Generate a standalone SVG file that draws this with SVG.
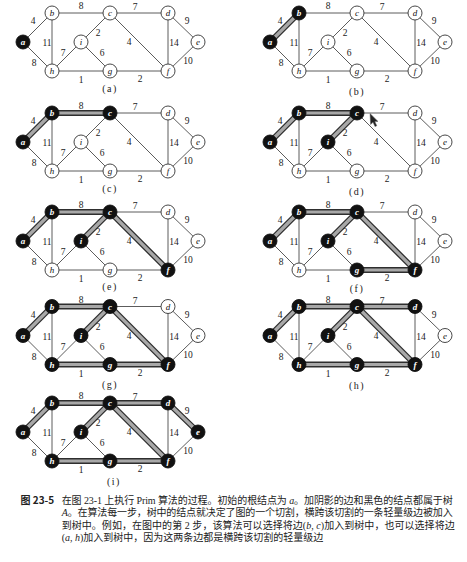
<svg xmlns="http://www.w3.org/2000/svg" width="467" height="562" viewBox="0 0 467 562">
<style>
.bg{fill:#fff}
.edges line{stroke:#4a4a4a;stroke-width:0.9}
.to{stroke:#2e2e2e;stroke-width:5.8;fill:none}
.ti{stroke:#a8a8a8;stroke-width:3.2;fill:none}
.n circle{fill:#fff;stroke:#333;stroke-width:0.9}
.n text{font-family:"Liberation Serif",serif;font-style:italic;font-size:9px;text-anchor:middle;fill:#111}
.k circle{fill:#111;stroke:#111}
.k text{fill:#fff;font-weight:bold}
.w text{font-family:"Liberation Serif",serif;font-size:9.5px;text-anchor:middle;fill:#222}
.lb{font-family:"Liberation Serif",serif;font-size:10px;text-anchor:middle;fill:#222;letter-spacing:1.5px}
.cap{font-family:"Liberation Serif","Noto Sans CJK SC",sans-serif;font-size:10px;fill:#222}
.capb{font-family:"Noto Sans CJK SC",sans-serif;font-size:10px;font-weight:bold;fill:#222}
.it{font-style:italic}
</style>
<rect class="bg" x="0" y="0" width="467" height="562"/>

<!-- panel a -->
<g id="panel-a" transform="translate(0,0)">
<g id="pa-edges" class="edges">
<line x1="23" y1="42" x2="52" y2="13"/><line x1="52" y1="13" x2="110" y2="13"/><line x1="110" y1="13" x2="168" y2="13"/><line x1="168" y1="13" x2="198" y2="42"/><line x1="52" y1="13" x2="52" y2="71"/><line x1="23" y1="42" x2="52" y2="71"/><line x1="52" y1="71" x2="81" y2="42"/><line x1="110" y1="13" x2="81" y2="42"/><line x1="81" y1="42" x2="110" y2="71"/><line x1="52" y1="71" x2="110" y2="71"/><line x1="110" y1="71" x2="168" y2="71"/><line x1="110" y1="13" x2="168" y2="71"/><line x1="168" y1="13" x2="168" y2="71"/><line x1="198" y1="42" x2="168" y2="71"/>
</g>
<g class="w"><text x="33" y="24">4</text><text x="81" y="9">8</text><text x="135" y="10">7</text><text x="187" y="24">9</text><text x="47" y="46">11</text><text x="98" y="36">2</text><text x="129" y="45">4</text><text x="174" y="46">14</text><text x="63" y="56">7</text><text x="102" y="56">6</text><text x="188" y="64">10</text><text x="34" y="66">8</text><text x="81" y="83">1</text><text x="140" y="82">2</text></g>
<g id="pa-a" class="n k"><circle cx="23" cy="42" r="7"/><text x="23" y="45">a</text></g>
<g id="pa-b" class="n"><circle cx="52" cy="13" r="7"/><text x="52" y="16">b</text></g>
<g id="pa-c" class="n"><circle cx="110" cy="13" r="7"/><text x="110" y="16">c</text></g>
<g id="pa-d" class="n"><circle cx="168" cy="13" r="7"/><text x="168" y="16">d</text></g>
<g id="pa-e" class="n"><circle cx="198" cy="42" r="7"/><text x="198" y="45">e</text></g>
<g id="pa-i" class="n"><circle cx="81" cy="42" r="7"/><text x="81" y="45">i</text></g>
<g id="pa-h" class="n"><circle cx="52" cy="71" r="7"/><text x="52" y="74">h</text></g>
<g id="pa-g" class="n"><circle cx="110" cy="71" r="7"/><text x="110" y="74">g</text></g>
<g id="pa-f" class="n"><circle cx="168" cy="71" r="7"/><text x="168" y="74">f</text></g>
<text class="lb" x="110" y="92">(a)</text>
</g>

<!-- panel b -->
<g id="panel-b" transform="translate(247,0)">
<g id="pb-edges" class="edges">
<line x1="23" y1="42" x2="52" y2="13"/><line x1="52" y1="13" x2="110" y2="13"/><line x1="110" y1="13" x2="168" y2="13"/><line x1="168" y1="13" x2="198" y2="42"/><line x1="52" y1="13" x2="52" y2="71"/><line x1="23" y1="42" x2="52" y2="71"/><line x1="52" y1="71" x2="81" y2="42"/><line x1="110" y1="13" x2="81" y2="42"/><line x1="81" y1="42" x2="110" y2="71"/><line x1="52" y1="71" x2="110" y2="71"/><line x1="110" y1="71" x2="168" y2="71"/><line x1="110" y1="13" x2="168" y2="71"/><line x1="168" y1="13" x2="168" y2="71"/><line x1="198" y1="42" x2="168" y2="71"/>
<path class="to" d="M23 42L52 13"/><path class="ti" d="M23 42L52 13"/>
</g>
<g class="w"><text x="33" y="24">4</text><text x="81" y="9">8</text><text x="135" y="10">7</text><text x="187" y="24">9</text><text x="47" y="46">11</text><text x="98" y="36">2</text><text x="129" y="45">4</text><text x="174" y="46">14</text><text x="63" y="56">7</text><text x="102" y="56">6</text><text x="188" y="64">10</text><text x="34" y="66">8</text><text x="81" y="83">1</text><text x="140" y="82">2</text></g>
<g id="pb-a" class="n k"><circle cx="23" cy="42" r="7"/><text x="23" y="45">a</text></g>
<g id="pb-b" class="n k"><circle cx="52" cy="13" r="7"/><text x="52" y="16">b</text></g>
<g id="pb-c" class="n"><circle cx="110" cy="13" r="7"/><text x="110" y="16">c</text></g>
<g id="pb-d" class="n"><circle cx="168" cy="13" r="7"/><text x="168" y="16">d</text></g>
<g id="pb-e" class="n"><circle cx="198" cy="42" r="7"/><text x="198" y="45">e</text></g>
<g id="pb-i" class="n"><circle cx="81" cy="42" r="7"/><text x="81" y="45">i</text></g>
<g id="pb-h" class="n"><circle cx="52" cy="71" r="7"/><text x="52" y="74">h</text></g>
<g id="pb-g" class="n"><circle cx="110" cy="71" r="7"/><text x="110" y="74">g</text></g>
<g id="pb-f" class="n"><circle cx="168" cy="71" r="7"/><text x="168" y="74">f</text></g>
<text class="lb" x="110" y="95">(b)</text>
</g>

<!-- panel c -->
<g id="panel-c" transform="translate(0,100)">
<g id="pc-edges" class="edges">
<line x1="23" y1="42" x2="52" y2="13"/><line x1="52" y1="13" x2="110" y2="13"/><line x1="110" y1="13" x2="168" y2="13"/><line x1="168" y1="13" x2="198" y2="42"/><line x1="52" y1="13" x2="52" y2="71"/><line x1="23" y1="42" x2="52" y2="71"/><line x1="52" y1="71" x2="81" y2="42"/><line x1="110" y1="13" x2="81" y2="42"/><line x1="81" y1="42" x2="110" y2="71"/><line x1="52" y1="71" x2="110" y2="71"/><line x1="110" y1="71" x2="168" y2="71"/><line x1="110" y1="13" x2="168" y2="71"/><line x1="168" y1="13" x2="168" y2="71"/><line x1="198" y1="42" x2="168" y2="71"/>
<path class="to" d="M23 42L52 13M52 13H110"/><path class="ti" d="M23 42L52 13M52 13H110"/>
</g>
<g class="w"><text x="33" y="24">4</text><text x="81" y="9">8</text><text x="135" y="10">7</text><text x="187" y="24">9</text><text x="47" y="46">11</text><text x="98" y="36">2</text><text x="129" y="45">4</text><text x="174" y="46">14</text><text x="63" y="56">7</text><text x="102" y="56">6</text><text x="188" y="64">10</text><text x="34" y="66">8</text><text x="81" y="83">1</text><text x="140" y="82">2</text></g>
<g id="pc-a" class="n k"><circle cx="23" cy="42" r="7"/><text x="23" y="45">a</text></g>
<g id="pc-b" class="n k"><circle cx="52" cy="13" r="7"/><text x="52" y="16">b</text></g>
<g id="pc-c" class="n k"><circle cx="110" cy="13" r="7"/><text x="110" y="16">c</text></g>
<g id="pc-d" class="n"><circle cx="168" cy="13" r="7"/><text x="168" y="16">d</text></g>
<g id="pc-e" class="n"><circle cx="198" cy="42" r="7"/><text x="198" y="45">e</text></g>
<g id="pc-i" class="n"><circle cx="81" cy="42" r="7"/><text x="81" y="45">i</text></g>
<g id="pc-h" class="n"><circle cx="52" cy="71" r="7"/><text x="52" y="74">h</text></g>
<g id="pc-g" class="n"><circle cx="110" cy="71" r="7"/><text x="110" y="74">g</text></g>
<g id="pc-f" class="n"><circle cx="168" cy="71" r="7"/><text x="168" y="74">f</text></g>
<text class="lb" x="110" y="92">(c)</text>
</g>

<!-- panel d -->
<g id="panel-d" transform="translate(247,100)">
<g id="pd-edges" class="edges">
<line x1="23" y1="42" x2="52" y2="13"/><line x1="52" y1="13" x2="110" y2="13"/><line x1="110" y1="13" x2="168" y2="13"/><line x1="168" y1="13" x2="198" y2="42"/><line x1="52" y1="13" x2="52" y2="71"/><line x1="23" y1="42" x2="52" y2="71"/><line x1="52" y1="71" x2="81" y2="42"/><line x1="110" y1="13" x2="81" y2="42"/><line x1="81" y1="42" x2="110" y2="71"/><line x1="52" y1="71" x2="110" y2="71"/><line x1="110" y1="71" x2="168" y2="71"/><line x1="110" y1="13" x2="168" y2="71"/><line x1="168" y1="13" x2="168" y2="71"/><line x1="198" y1="42" x2="168" y2="71"/>
<path class="to" d="M23 42L52 13M52 13H110M110 13L81 42"/><path class="ti" d="M23 42L52 13M52 13H110M110 13L81 42"/>
</g>
<g class="w"><text x="33" y="24">4</text><text x="81" y="9">8</text><text x="135" y="10">7</text><text x="187" y="24">9</text><text x="47" y="46">11</text><text x="98" y="36">2</text><text x="129" y="45">4</text><text x="174" y="46">14</text><text x="63" y="56">7</text><text x="102" y="56">6</text><text x="188" y="64">10</text><text x="34" y="66">8</text><text x="81" y="83">1</text><text x="140" y="82">2</text></g>
<g id="pd-a" class="n k"><circle cx="23" cy="42" r="7"/><text x="23" y="45">a</text></g>
<g id="pd-b" class="n k"><circle cx="52" cy="13" r="7"/><text x="52" y="16">b</text></g>
<g id="pd-c" class="n k"><circle cx="110" cy="13" r="7"/><text x="110" y="16">c</text></g>
<g id="pd-d" class="n"><circle cx="168" cy="13" r="7"/><text x="168" y="16">d</text></g>
<g id="pd-e" class="n"><circle cx="198" cy="42" r="7"/><text x="198" y="45">e</text></g>
<g id="pd-i" class="n k"><circle cx="81" cy="42" r="7"/><text x="81" y="45">i</text></g>
<g id="pd-h" class="n"><circle cx="52" cy="71" r="7"/><text x="52" y="74">h</text></g>
<g id="pd-g" class="n"><circle cx="110" cy="71" r="7"/><text x="110" y="74">g</text></g>
<g id="pd-f" class="n"><circle cx="168" cy="71" r="7"/><text x="168" y="74">f</text></g>
<text class="lb" x="110" y="95">(d)</text>
<path id="cursor" d="M123 13.5L123.6 24.5L126 22.3L128 26.6L129.8 25.8L127.8 21.6L131 21.4Z" fill="#222" stroke="#666" stroke-width="0.5"/>
</g>

<!-- panel e -->
<g id="panel-e" transform="translate(0,199)">
<g id="pe-edges" class="edges">
<line x1="23" y1="42" x2="52" y2="13"/><line x1="52" y1="13" x2="110" y2="13"/><line x1="110" y1="13" x2="168" y2="13"/><line x1="168" y1="13" x2="198" y2="42"/><line x1="52" y1="13" x2="52" y2="71"/><line x1="23" y1="42" x2="52" y2="71"/><line x1="52" y1="71" x2="81" y2="42"/><line x1="110" y1="13" x2="81" y2="42"/><line x1="81" y1="42" x2="110" y2="71"/><line x1="52" y1="71" x2="110" y2="71"/><line x1="110" y1="71" x2="168" y2="71"/><line x1="110" y1="13" x2="168" y2="71"/><line x1="168" y1="13" x2="168" y2="71"/><line x1="198" y1="42" x2="168" y2="71"/>
<path class="to" d="M23 42L52 13M52 13H110M110 13L81 42M110 13L168 71"/><path class="ti" d="M23 42L52 13M52 13H110M110 13L81 42M110 13L168 71"/>
</g>
<g class="w"><text x="33" y="24">4</text><text x="81" y="9">8</text><text x="135" y="10">7</text><text x="187" y="24">9</text><text x="47" y="46">11</text><text x="98" y="36">2</text><text x="129" y="45">4</text><text x="174" y="46">14</text><text x="63" y="56">7</text><text x="102" y="56">6</text><text x="188" y="64">10</text><text x="34" y="66">8</text><text x="81" y="83">1</text><text x="140" y="82">2</text></g>
<g id="pe-a" class="n k"><circle cx="23" cy="42" r="7"/><text x="23" y="45">a</text></g>
<g id="pe-b" class="n k"><circle cx="52" cy="13" r="7"/><text x="52" y="16">b</text></g>
<g id="pe-c" class="n k"><circle cx="110" cy="13" r="7"/><text x="110" y="16">c</text></g>
<g id="pe-d" class="n"><circle cx="168" cy="13" r="7"/><text x="168" y="16">d</text></g>
<g id="pe-e" class="n"><circle cx="198" cy="42" r="7"/><text x="198" y="45">e</text></g>
<g id="pe-i" class="n k"><circle cx="81" cy="42" r="7"/><text x="81" y="45">i</text></g>
<g id="pe-h" class="n"><circle cx="52" cy="71" r="7"/><text x="52" y="74">h</text></g>
<g id="pe-g" class="n"><circle cx="110" cy="71" r="7"/><text x="110" y="74">g</text></g>
<g id="pe-f" class="n k"><circle cx="168" cy="71" r="7"/><text x="168" y="74">f</text></g>
<text class="lb" x="110" y="91">(e)</text>
</g>

<!-- panel f -->
<g id="panel-f" transform="translate(247,199)">
<g id="pf-edges" class="edges">
<line x1="23" y1="42" x2="52" y2="13"/><line x1="52" y1="13" x2="110" y2="13"/><line x1="110" y1="13" x2="168" y2="13"/><line x1="168" y1="13" x2="198" y2="42"/><line x1="52" y1="13" x2="52" y2="71"/><line x1="23" y1="42" x2="52" y2="71"/><line x1="52" y1="71" x2="81" y2="42"/><line x1="110" y1="13" x2="81" y2="42"/><line x1="81" y1="42" x2="110" y2="71"/><line x1="52" y1="71" x2="110" y2="71"/><line x1="110" y1="71" x2="168" y2="71"/><line x1="110" y1="13" x2="168" y2="71"/><line x1="168" y1="13" x2="168" y2="71"/><line x1="198" y1="42" x2="168" y2="71"/>
<path class="to" d="M23 42L52 13M52 13H110M110 13L81 42M110 13L168 71M110 71H168"/><path class="ti" d="M23 42L52 13M52 13H110M110 13L81 42M110 13L168 71M110 71H168"/>
</g>
<g class="w"><text x="33" y="24">4</text><text x="81" y="9">8</text><text x="135" y="10">7</text><text x="187" y="24">9</text><text x="47" y="46">11</text><text x="98" y="36">2</text><text x="129" y="45">4</text><text x="174" y="46">14</text><text x="63" y="56">7</text><text x="102" y="56">6</text><text x="188" y="64">10</text><text x="34" y="66">8</text><text x="81" y="83">1</text><text x="140" y="82">2</text></g>
<g id="pf-a" class="n k"><circle cx="23" cy="42" r="7"/><text x="23" y="45">a</text></g>
<g id="pf-b" class="n k"><circle cx="52" cy="13" r="7"/><text x="52" y="16">b</text></g>
<g id="pf-c" class="n k"><circle cx="110" cy="13" r="7"/><text x="110" y="16">c</text></g>
<g id="pf-d" class="n"><circle cx="168" cy="13" r="7"/><text x="168" y="16">d</text></g>
<g id="pf-e" class="n"><circle cx="198" cy="42" r="7"/><text x="198" y="45">e</text></g>
<g id="pf-i" class="n k"><circle cx="81" cy="42" r="7"/><text x="81" y="45">i</text></g>
<g id="pf-h" class="n"><circle cx="52" cy="71" r="7"/><text x="52" y="74">h</text></g>
<g id="pf-g" class="n k"><circle cx="110" cy="71" r="7"/><text x="110" y="74">g</text></g>
<g id="pf-f" class="n k"><circle cx="168" cy="71" r="7"/><text x="168" y="74">f</text></g>
<text class="lb" x="110" y="92.5">(f)</text>
</g>

<!-- panel g -->
<g id="panel-g" transform="translate(0,293.5)">
<g id="pg-edges" class="edges">
<line x1="23" y1="42" x2="52" y2="13"/><line x1="52" y1="13" x2="110" y2="13"/><line x1="110" y1="13" x2="168" y2="13"/><line x1="168" y1="13" x2="198" y2="42"/><line x1="52" y1="13" x2="52" y2="71"/><line x1="23" y1="42" x2="52" y2="71"/><line x1="52" y1="71" x2="81" y2="42"/><line x1="110" y1="13" x2="81" y2="42"/><line x1="81" y1="42" x2="110" y2="71"/><line x1="52" y1="71" x2="110" y2="71"/><line x1="110" y1="71" x2="168" y2="71"/><line x1="110" y1="13" x2="168" y2="71"/><line x1="168" y1="13" x2="168" y2="71"/><line x1="198" y1="42" x2="168" y2="71"/>
<path class="to" d="M23 42L52 13M52 13H110M110 13L81 42M110 13L168 71M110 71H168M52 71H110"/><path class="ti" d="M23 42L52 13M52 13H110M110 13L81 42M110 13L168 71M110 71H168M52 71H110"/>
</g>
<g class="w"><text x="33" y="24">4</text><text x="81" y="9">8</text><text x="135" y="10">7</text><text x="187" y="24">9</text><text x="47" y="46">11</text><text x="98" y="36">2</text><text x="129" y="45">4</text><text x="174" y="46">14</text><text x="63" y="56">7</text><text x="102" y="56">6</text><text x="188" y="64">10</text><text x="34" y="66">8</text><text x="81" y="83">1</text><text x="140" y="82">2</text></g>
<g id="pg-a" class="n k"><circle cx="23" cy="42" r="7"/><text x="23" y="45">a</text></g>
<g id="pg-b" class="n k"><circle cx="52" cy="13" r="7"/><text x="52" y="16">b</text></g>
<g id="pg-c" class="n k"><circle cx="110" cy="13" r="7"/><text x="110" y="16">c</text></g>
<g id="pg-d" class="n"><circle cx="168" cy="13" r="7"/><text x="168" y="16">d</text></g>
<g id="pg-e" class="n"><circle cx="198" cy="42" r="7"/><text x="198" y="45">e</text></g>
<g id="pg-i" class="n k"><circle cx="81" cy="42" r="7"/><text x="81" y="45">i</text></g>
<g id="pg-h" class="n k"><circle cx="52" cy="71" r="7"/><text x="52" y="74">h</text></g>
<g id="pg-g" class="n k"><circle cx="110" cy="71" r="7"/><text x="110" y="74">g</text></g>
<g id="pg-f" class="n k"><circle cx="168" cy="71" r="7"/><text x="168" y="74">f</text></g>
<text class="lb" x="110" y="94.5">(g)</text>
</g>

<!-- panel h -->
<g id="panel-h" transform="translate(247,293.5)">
<g id="ph-edges" class="edges">
<line x1="23" y1="42" x2="52" y2="13"/><line x1="52" y1="13" x2="110" y2="13"/><line x1="110" y1="13" x2="168" y2="13"/><line x1="168" y1="13" x2="198" y2="42"/><line x1="52" y1="13" x2="52" y2="71"/><line x1="23" y1="42" x2="52" y2="71"/><line x1="52" y1="71" x2="81" y2="42"/><line x1="110" y1="13" x2="81" y2="42"/><line x1="81" y1="42" x2="110" y2="71"/><line x1="52" y1="71" x2="110" y2="71"/><line x1="110" y1="71" x2="168" y2="71"/><line x1="110" y1="13" x2="168" y2="71"/><line x1="168" y1="13" x2="168" y2="71"/><line x1="198" y1="42" x2="168" y2="71"/>
<path class="to" d="M23 42L52 13M52 13H110M110 13L81 42M110 13L168 71M110 71H168M52 71H110M110 13H168"/><path class="ti" d="M23 42L52 13M52 13H110M110 13L81 42M110 13L168 71M110 71H168M52 71H110M110 13H168"/>
</g>
<g class="w"><text x="33" y="24">4</text><text x="81" y="9">8</text><text x="135" y="10">7</text><text x="187" y="24">9</text><text x="47" y="46">11</text><text x="98" y="36">2</text><text x="129" y="45">4</text><text x="174" y="46">14</text><text x="63" y="56">7</text><text x="102" y="56">6</text><text x="188" y="64">10</text><text x="34" y="66">8</text><text x="81" y="83">1</text><text x="140" y="82">2</text></g>
<g id="ph-a" class="n k"><circle cx="23" cy="42" r="7"/><text x="23" y="45">a</text></g>
<g id="ph-b" class="n k"><circle cx="52" cy="13" r="7"/><text x="52" y="16">b</text></g>
<g id="ph-c" class="n k"><circle cx="110" cy="13" r="7"/><text x="110" y="16">c</text></g>
<g id="ph-d" class="n k"><circle cx="168" cy="13" r="7"/><text x="168" y="16">d</text></g>
<g id="ph-e" class="n"><circle cx="198" cy="42" r="7"/><text x="198" y="45">e</text></g>
<g id="ph-i" class="n k"><circle cx="81" cy="42" r="7"/><text x="81" y="45">i</text></g>
<g id="ph-h" class="n k"><circle cx="52" cy="71" r="7"/><text x="52" y="74">h</text></g>
<g id="ph-g" class="n k"><circle cx="110" cy="71" r="7"/><text x="110" y="74">g</text></g>
<g id="ph-f" class="n k"><circle cx="168" cy="71" r="7"/><text x="168" y="74">f</text></g>
<text class="lb" x="110" y="95.5">(h)</text>
</g>

<!-- panel i -->
<g id="panel-i" transform="translate(0,390)">
<g id="pi-edges" class="edges">
<line x1="23" y1="42" x2="52" y2="13"/><line x1="52" y1="13" x2="110" y2="13"/><line x1="110" y1="13" x2="168" y2="13"/><line x1="168" y1="13" x2="198" y2="42"/><line x1="52" y1="13" x2="52" y2="71"/><line x1="23" y1="42" x2="52" y2="71"/><line x1="52" y1="71" x2="81" y2="42"/><line x1="110" y1="13" x2="81" y2="42"/><line x1="81" y1="42" x2="110" y2="71"/><line x1="52" y1="71" x2="110" y2="71"/><line x1="110" y1="71" x2="168" y2="71"/><line x1="110" y1="13" x2="168" y2="71"/><line x1="168" y1="13" x2="168" y2="71"/><line x1="198" y1="42" x2="168" y2="71"/>
<path class="to" d="M23 42L52 13M52 13H110M110 13L81 42M110 13L168 71M110 71H168M52 71H110M110 13H168M168 13L198 42"/><path class="ti" d="M23 42L52 13M52 13H110M110 13L81 42M110 13L168 71M110 71H168M52 71H110M110 13H168M168 13L198 42"/>
</g>
<g class="w"><text x="33" y="24">4</text><text x="81" y="9">8</text><text x="135" y="10">7</text><text x="187" y="24">9</text><text x="47" y="46">11</text><text x="98" y="36">2</text><text x="129" y="45">4</text><text x="174" y="46">14</text><text x="63" y="56">7</text><text x="102" y="56">6</text><text x="188" y="64">10</text><text x="34" y="66">8</text><text x="81" y="83">1</text><text x="140" y="82">2</text></g>
<g id="pi-a" class="n k"><circle cx="23" cy="42" r="7"/><text x="23" y="45">a</text></g>
<g id="pi-b" class="n k"><circle cx="52" cy="13" r="7"/><text x="52" y="16">b</text></g>
<g id="pi-c" class="n k"><circle cx="110" cy="13" r="7"/><text x="110" y="16">c</text></g>
<g id="pi-d" class="n k"><circle cx="168" cy="13" r="7"/><text x="168" y="16">d</text></g>
<g id="pi-e" class="n k"><circle cx="198" cy="42" r="7"/><text x="198" y="45">e</text></g>
<g id="pi-i" class="n k"><circle cx="81" cy="42" r="7"/><text x="81" y="45">i</text></g>
<g id="pi-h" class="n k"><circle cx="52" cy="71" r="7"/><text x="52" y="74">h</text></g>
<g id="pi-g" class="n k"><circle cx="110" cy="71" r="7"/><text x="110" y="74">g</text></g>
<g id="pi-f" class="n k"><circle cx="168" cy="71" r="7"/><text x="168" y="74">f</text></g>
<text class="lb" x="114" y="95">(i)</text>
</g>

<!-- caption -->
<g id="caption">
<text class="capb" x="20.5" y="503.5">图 23-5</text>
<text class="cap" x="61.7" y="503.5" textLength="391" lengthAdjust="spacing">在图 23-1 上执行 Prim 算法的过程。初始的根结点为 <tspan class="it">a</tspan>。加阴影的边和黑色的结点都属于树</text>
<text class="cap" x="61.7" y="516" textLength="391" lengthAdjust="spacing"><tspan class="it">A</tspan>。在算法每一步，树中的结点就决定了图的一个切割，横跨该切割的一条轻量级边被加入</text>
<text class="cap" x="61.7" y="528.5" textLength="393" lengthAdjust="spacing">到树中。例如，在图中的第 2 步，该算法可以选择将边(<tspan class="it">b</tspan>, <tspan class="it">c</tspan>)加入到树中，也可以选择将边</text>
<text class="cap" x="61.7" y="541">(<tspan class="it">a</tspan>, <tspan class="it">h</tspan>)加入到树中，因为这两条边都是横跨该切割的轻量级边</text>
</g>
</svg>
